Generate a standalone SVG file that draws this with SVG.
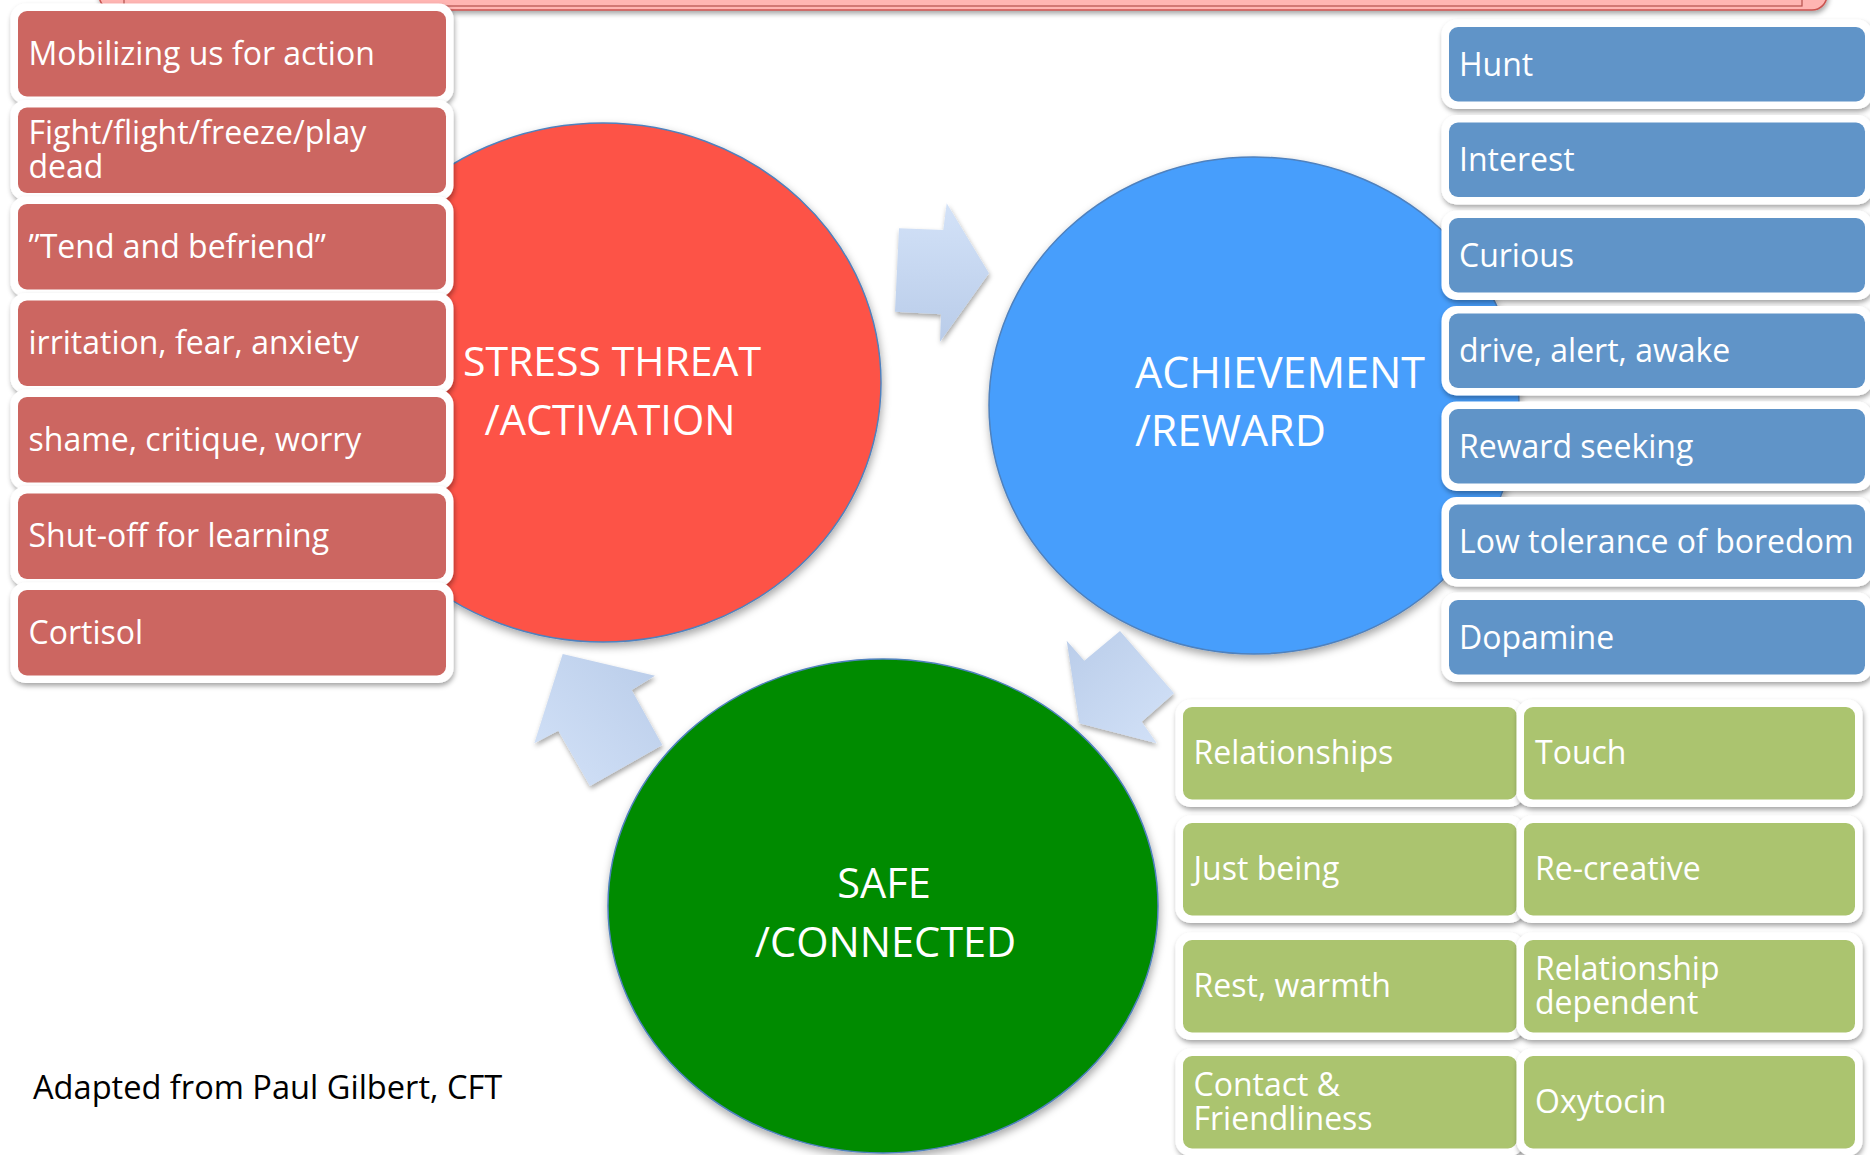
<svg xmlns="http://www.w3.org/2000/svg" width="1870" height="1155" viewBox="0 0 1870 1155">
<defs>
<filter id="sh" x="-10%" y="-20%" width="125%" height="150%">
<feDropShadow dx="1" dy="3" stdDeviation="2.5" flood-color="#000" flood-opacity="0.35"/>
</filter>
<filter id="csh" x="-10%" y="-10%" width="125%" height="125%">
<feDropShadow dx="1" dy="4" stdDeviation="4" flood-color="#000" flood-opacity="0.35"/>
</filter>
<linearGradient id="g1" x1="0" y1="0" x2="0" y2="1"><stop offset="0" stop-color="#D3E2F8"/><stop offset="1" stop-color="#B9CCE9"/></linearGradient>
<linearGradient id="g2" x1="0" y1="0" x2="1" y2="1"><stop offset="0" stop-color="#B9CCE9"/><stop offset="1" stop-color="#D3E2F8"/></linearGradient>
<linearGradient id="g3" x1="0" y1="1" x2="1" y2="0"><stop offset="0" stop-color="#D3E2F8"/><stop offset="1" stop-color="#B9CCE9"/></linearGradient>
</defs>
<style>
.o{fill:#fff;filter:url(#sh)}
.red{fill:#CC6661}
.blue{fill:#6094C8}
.green{fill:#ABC46F}
.t{font-family:"Open Sans","DejaVu Sans",sans-serif;font-size:32px;fill:#fff}
.ti{font-family:"Open Sans","DejaVu Sans",sans-serif;font-size:41px;fill:#fff}
.ti-a{font-size:43px}
.ti-s{font-size:41.5px}
.circ{stroke:#4F81BD;stroke-width:1.5;filter:url(#csh)}
.arr{filter:url(#sh)}
</style>
<rect width="1870" height="1155" fill="#fff"/>

<g id="top-bar">
<rect x="99" y="-40" width="1728" height="50" rx="15" fill="#FFB5B2" stroke="#C9534F" stroke-width="1.5" filter="url(#sh)"/>
<rect x="124" y="-40" width="1678" height="46" fill="none" stroke="#B5504C" stroke-width="1.2"/>
</g>

<g id="stress-threat">
<ellipse class="circ" cx="603" cy="382.5" rx="278" ry="259.5" fill="#FD5246"/>
<text class="ti" x="612" y="376" text-anchor="middle">STRESS THREAT</text>
<text class="ti ti-s" x="610" y="435" text-anchor="middle">/ACTIVATION</text>
</g>

<g id="achievement-reward">
<ellipse class="circ" cx="1254" cy="405.5" rx="265" ry="248.5" fill="#469EFC"/>
<text class="ti ti-a" x="1135" y="388">ACHIEVEMENT</text>
<text class="ti ti-a" x="1135" y="446">/REWARD</text>
</g>

<g id="safe-connected">
<ellipse class="circ" cx="883" cy="906" rx="275" ry="247" fill="#008B00"/>
<text class="ti ti-s" x="884" y="898" text-anchor="middle">SAFE</text>
<text class="ti ti-s" x="885.5" y="957" text-anchor="middle">/CONNECTED</text>
</g>

<g id="connectors">
<polygon class="arr" fill="url(#g1)" points="899,228.3 943.3,230 946.7,203.3 989,273.3 940,341.7 941,314.3 895,311.7"/>
<polygon class="arr" fill="url(#g2)" points="1066.7,640.7 1084.3,660.7 1120,631 1174,693.3 1141.7,721.7 1156.7,743.3 1079.3,723.3"/>
<polygon class="arr" fill="url(#g3)" points="562.7,654 655,675.7 631.7,690 662.3,745 590,786 558.3,730.7 534.3,743.3"/>
</g>

<g id="red-1"><rect class="o" x="10.5" y="3.5" width="443" height="100.5" rx="15"/><rect class="red" x="18" y="11" width="428" height="85.5" rx="9"/><text class="t" x="28.5" y="65">Mobilizing us for action</text></g>
<g id="red-2"><rect class="o" x="10.5" y="100" width="443" height="100.5" rx="15"/><rect class="red" x="18" y="107.5" width="428" height="85.5" rx="9"/><text class="t" x="28.5" y="144">Fight/flight/freeze/play<tspan x="28.5" dy="34">dead</tspan></text></g>
<g id="red-3"><rect class="o" x="10.5" y="196.5" width="443" height="100.5" rx="15"/><rect class="red" x="18" y="204" width="428" height="85.5" rx="9"/><text class="t" x="28.5" y="257.5">”Tend and befriend”</text></g>
<g id="red-4"><rect class="o" x="10.5" y="293" width="443" height="100.5" rx="15"/><rect class="red" x="18" y="300.5" width="428" height="85.5" rx="9"/><text class="t" x="28.5" y="354">irritation, fear, anxiety</text></g>
<g id="red-5"><rect class="o" x="10.5" y="389.5" width="443" height="100.5" rx="15"/><rect class="red" x="18" y="397" width="428" height="85.5" rx="9"/><text class="t" x="28.5" y="450.5">shame, critique, worry</text></g>
<g id="red-6"><rect class="o" x="10.5" y="486" width="443" height="100.5" rx="15"/><rect class="red" x="18" y="493.5" width="428" height="85.5" rx="9"/><text class="t" x="28.5" y="547">Shut-off for learning</text></g>
<g id="red-7"><rect class="o" x="10.5" y="582.5" width="443" height="100.5" rx="15"/><rect class="red" x="18" y="590" width="428" height="85.5" rx="9"/><text class="t" x="28.5" y="643.5">Cortisol</text></g>

<g id="blue-1"><rect class="o" x="1441.5" y="19.5" width="431" height="89.5" rx="15"/><rect class="blue" x="1449" y="27" width="416" height="74.5" rx="9"/><text class="t" x="1459" y="75.8">Hunt</text></g>
<g id="blue-2"><rect class="o" x="1441.5" y="115" width="431" height="89.5" rx="15"/><rect class="blue" x="1449" y="122.5" width="416" height="74.5" rx="9"/><text class="t" x="1459" y="171.3">Interest</text></g>
<g id="blue-3"><rect class="o" x="1441.5" y="210.5" width="431" height="89.5" rx="15"/><rect class="blue" x="1449" y="218" width="416" height="74.5" rx="9"/><text class="t" x="1459" y="266.8">Curious</text></g>
<g id="blue-4"><rect class="o" x="1441.5" y="306" width="431" height="89.5" rx="15"/><rect class="blue" x="1449" y="313.5" width="416" height="74.5" rx="9"/><text class="t" x="1459" y="362.3">drive, alert, awake</text></g>
<g id="blue-5"><rect class="o" x="1441.5" y="401.5" width="431" height="89.5" rx="15"/><rect class="blue" x="1449" y="409" width="416" height="74.5" rx="9"/><text class="t" x="1459" y="457.8">Reward seeking</text></g>
<g id="blue-6"><rect class="o" x="1441.5" y="497" width="431" height="89.5" rx="15"/><rect class="blue" x="1449" y="504.5" width="416" height="74.5" rx="9"/><text class="t" x="1459" y="553.3">Low tolerance of boredom</text></g>
<g id="blue-7"><rect class="o" x="1441.5" y="592.5" width="431" height="89.5" rx="15"/><rect class="blue" x="1449" y="600" width="416" height="74.5" rx="9"/><text class="t" x="1459" y="648.8">Dopamine</text></g>

<g id="green-1"><rect class="o" x="1175.5" y="699.5" width="349" height="107.5" rx="15"/><rect class="green" x="1183" y="707" width="334" height="92.5" rx="9"/><text class="t" x="1193.5" y="764">Relationships</text></g>
<g id="green-2"><rect class="o" x="1516.5" y="699.5" width="346" height="107.5" rx="15"/><rect class="green" x="1524" y="707" width="331" height="92.5" rx="9"/><text class="t" x="1535" y="764">Touch</text></g>
<g id="green-3"><rect class="o" x="1175.5" y="815.5" width="349" height="107.5" rx="15"/><rect class="green" x="1183" y="823" width="334" height="92.5" rx="9"/><text class="t" x="1193.5" y="880">Just being</text></g>
<g id="green-4"><rect class="o" x="1516.5" y="815.5" width="346" height="107.5" rx="15"/><rect class="green" x="1524" y="823" width="331" height="92.5" rx="9"/><text class="t" x="1535" y="880">Re-creative</text></g>
<g id="green-5"><rect class="o" x="1175.5" y="932.5" width="349" height="107.5" rx="15"/><rect class="green" x="1183" y="940" width="334" height="92.5" rx="9"/><text class="t" x="1193.5" y="997">Rest, warmth</text></g>
<g id="green-6"><rect class="o" x="1516.5" y="932.5" width="346" height="107.5" rx="15"/><rect class="green" x="1524" y="940" width="331" height="92.5" rx="9"/><text class="t" x="1535" y="980">Relationship<tspan x="1535" dy="34">dependent</tspan></text></g>
<g id="green-7"><rect class="o" x="1175.5" y="1048.5" width="349" height="107.5" rx="15"/><rect class="green" x="1183" y="1056" width="334" height="92.5" rx="9"/><text class="t" x="1193.5" y="1096">Contact &amp;<tspan x="1193.5" dy="34">Friendliness</tspan></text></g>
<g id="green-8"><rect class="o" x="1516.5" y="1048.5" width="346" height="107.5" rx="15"/><rect class="green" x="1524" y="1056" width="331" height="92.5" rx="9"/><text class="t" x="1535" y="1113">Oxytocin</text></g>

<g id="credit"><text x="33" y="1099" font-family="Open Sans, DejaVu Sans, sans-serif" font-size="32.6" fill="#000">Adapted from Paul Gilbert, CFT</text></g>
</svg>
